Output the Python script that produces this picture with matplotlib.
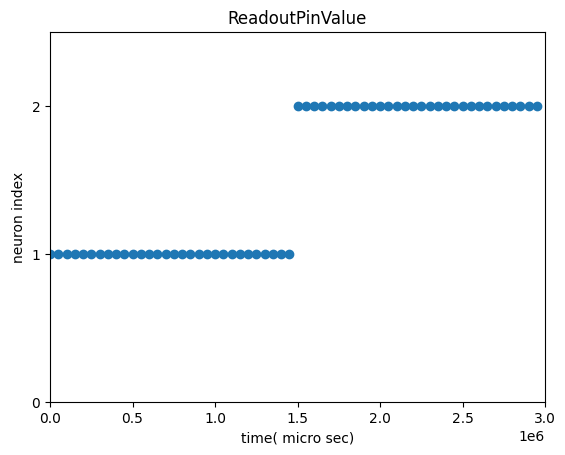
import matplotlib
matplotlib.use("Agg")
import matplotlib.pyplot as plt

# spike times (micro sec)
times_n1 = [0, 50000, 100000, 150000, 200000, 250000, 300000, 350000, 400000, 450000,
            500000, 550000, 600000, 650000, 700000, 750000, 800000, 850000, 900000, 950000,
            1000000, 1050000, 1100000, 1150000, 1200000, 1250000, 1300000, 1350000, 1400000, 1450000]
times_n2 = [1500000, 1550000, 1600000, 1650000, 1700000, 1750000, 1800000, 1850000, 1900000, 1950000,
            2000000, 2050000, 2100000, 2150000, 2200000, 2250000, 2300000, 2350000, 2400000, 2450000,
            2500000, 2550000, 2600000, 2650000, 2700000, 2750000, 2800000, 2850000, 2900000, 2950000]
neuron_n1 = [1] * len(times_n1)
neuron_n2 = [2] * len(times_n2)
yticks = [0, 1, 2]

W, H = 565, 455
fig = plt.figure(figsize=(W / 100, H / 100), dpi=100)
ax = fig.add_axes([50 / W, (H - 402) / H, 495 / W, 370 / H])

ax.scatter(times_n1 + times_n2, neuron_n1 + neuron_n2, color="#1f77b4")
ax.set_xlim(0, 3000000)
ax.set_ylim(0, 2.5)
ax.set_yticks(yticks)
ax.set_title("ReadoutPinValue")
ax.set_xlabel("time( micro sec)")
ax.set_ylabel("neuron index")

fig.savefig("out.png", dpi=100, facecolor="white")
